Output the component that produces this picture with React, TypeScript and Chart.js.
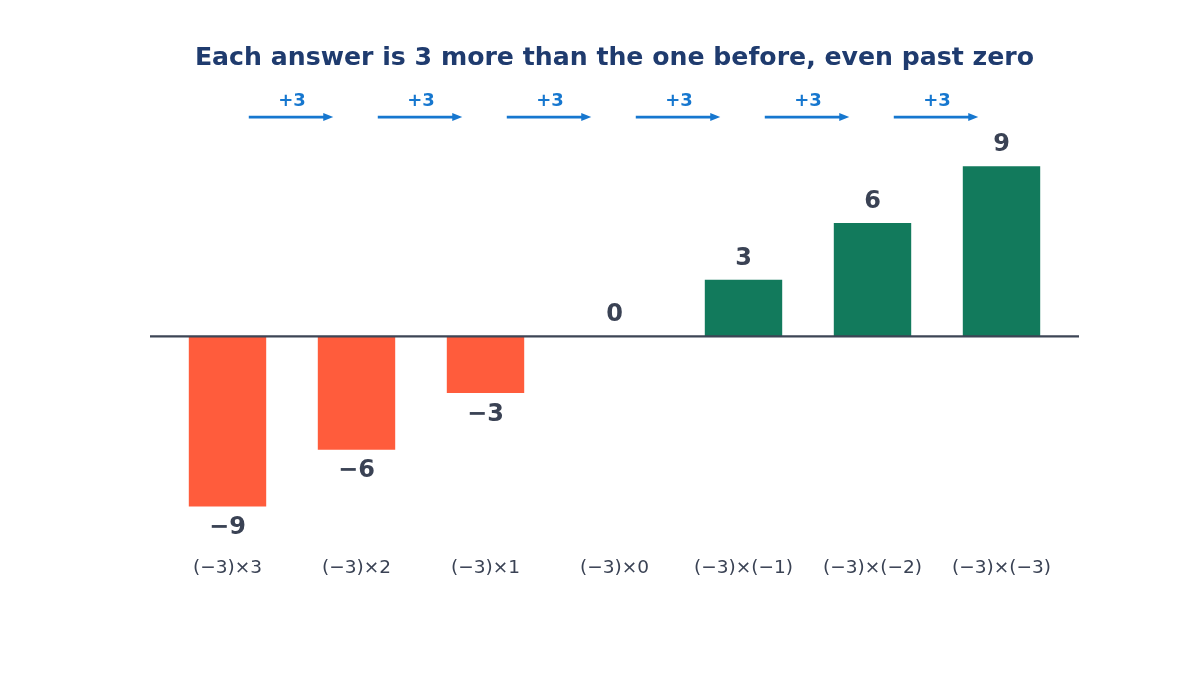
import React, { useEffect, useRef } from 'react';
import { Chart, registerables } from 'chart.js';

Chart.register(...registerables);

const categories = ['(−3)×3', '(−3)×2', '(−3)×1', '(−3)×0', '(−3)×(−1)', '(−3)×(−2)', '(−3)×(−3)'];
const products = [-9, -6, -3, 0, 3, 6, 9];
const stepLabels = ['+3', '+3', '+3', '+3', '+3', '+3'];

const FONT = '"DejaVu Sans", sans-serif';
const TEXT_DARK = '#3a4254';
const ARROW_BLUE = '#1677cf';

const fmt = (v: number) => (v < 0 ? `−${Math.abs(v)}` : `${v}`);

// zero line, value labels and the "+3" step arrows
const annotations = {
    id: 'annotations',
    afterDatasetsDraw(chart: any) {
        const { ctx, chartArea, scales } = chart;
        const x = scales.x;
        const y = scales.y;
        ctx.save();

        // zero line, a bit wider than the plot
        const y0 = y.getPixelForValue(0);
        ctx.strokeStyle = '#3d4555';
        ctx.lineWidth = 2.4;
        ctx.beginPath();
        ctx.moveTo(chartArea.left - 13, y0);
        ctx.lineTo(chartArea.right + 13, y0);
        ctx.stroke();

        // value labels
        ctx.font = `bold 24px ${FONT}`;
        ctx.fillStyle = TEXT_DARK;
        ctx.textAlign = 'center';
        ctx.textBaseline = 'alphabetic';
        const meta = chart.getDatasetMeta(0);
        meta.data.forEach((bar: any, i: number) => {
            const v = products[i];
            const yPix = y.getPixelForValue(v);
            const ty = v < 0 ? yPix + 27.5 : yPix - 15;
            ctx.fillText(fmt(v), bar.x, ty);
        });

        // step arrows
        const ya = y.getPixelForValue(11.6);
        const yt = y.getPixelForValue(12.45);
        stepLabels.forEach((label, i) => {
            const xs = x.getPixelForValue(i + 0.165);
            const xe = x.getPixelForValue(i + 0.82);
            ctx.strokeStyle = ARROW_BLUE;
            ctx.fillStyle = ARROW_BLUE;
            ctx.lineWidth = 2.6;
            ctx.beginPath();
            ctx.moveTo(xs, ya);
            ctx.lineTo(xe - 8, ya);
            ctx.stroke();
            ctx.beginPath();
            ctx.moveTo(xe, ya);
            ctx.lineTo(xe - 10, ya - 4);
            ctx.lineTo(xe - 10, ya + 4);
            ctx.closePath();
            ctx.fill();

            ctx.font = `bold 18px ${FONT}`;
            ctx.textBaseline = 'middle';
            ctx.fillText(label, (xs + xe) / 2 + 1, yt);
        });

        ctx.restore();
    },
};

const App: React.FC = () => {
    const chartRef = useRef<HTMLCanvasElement>(null);
    const chartInstance = useRef<Chart | null>(null);

    useEffect(() => {
        document.body.style.margin = '0';
        if (!chartRef.current) return;
        const ctx = chartRef.current.getContext('2d');
        if (!ctx) return;
        if (chartInstance.current) chartInstance.current.destroy();

        chartInstance.current = new Chart(ctx, {
            type: 'bar',
            data: {
                labels: categories,
                datasets: [{
                    data: products,
                    backgroundColor: products.map(v => (v < 0 ? '#ff5c3c' : '#127a5c')),
                    borderWidth: 0,
                    barPercentage: 0.6,
                    categoryPercentage: 1,
                }],
            },
            options: {
                animation: false,
                responsive: true,
                maintainAspectRatio: false,
                layout: { padding: { left: 163, right: 134, top: 0, bottom: 82.5 } },
                scales: {
                    x: {
                        grid: { display: false, drawTicks: false },
                        border: { display: false },
                        ticks: {
                            color: TEXT_DARK,
                            font: { family: FONT, size: 18.5 },
                            padding: 13,
                            maxRotation: 0,
                            autoSkip: false,
                        },
                    },
                    y: { display: false, min: -11, max: 13 },
                },
                plugins: {
                    legend: { display: false },
                    tooltip: { enabled: false },
                    title: {
                        display: true,
                        text: 'Each answer is 3 more than the one before, even past zero',
                        color: '#1f3b6e',
                        font: { family: FONT, size: 25.2, weight: 'bold', lineHeight: 1.2 },
                        padding: { top: 43, bottom: 17.4 },
                    },
                },
            },
            plugins: [annotations],
        });

        return () => {
            if (chartInstance.current) {
                chartInstance.current.destroy();
                chartInstance.current = null;
            }
        };
    }, []);

    return (
        <div style={{ position: 'relative', width: 1200, height: 675, background: '#fff' }}>
            <canvas ref={chartRef}></canvas>
        </div>
    );
};

export default App;
